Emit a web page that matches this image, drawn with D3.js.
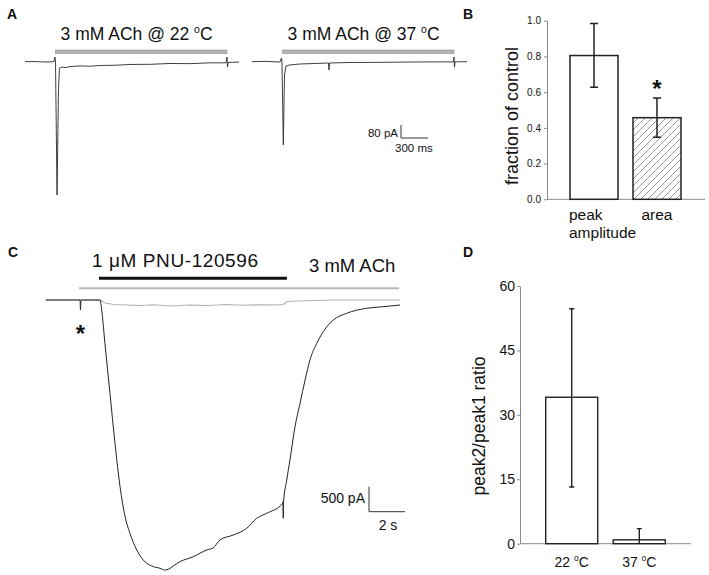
<!DOCTYPE html>
<html><head><meta charset="utf-8">
<script src="https://cdn.jsdelivr.net/npm/d3@7"></script>
<style>
body{margin:0;background:#fff}
svg{display:block}
text{font-family:"Liberation Sans",Arial,Helvetica,sans-serif;fill:#111}
</style>
</head><body>
<svg id="fig" width="709" height="575"></svg>
<script>
// ---------------- DATA ----------------
// Panel A : whole-cell current traces (time in ms, current in pA)
const aTemps = ["22", "37"];
const aAppWindowMs = [340, 2244];
const aTrace22 = [[0,0],[111,1],[222,-2],[322,0],[333,29],[339,-2],[356,-820],[372,-174],[383,-39],[411,-33],[456,-36],[500,-30],[611,-26],[722,-28],[833,-23],[1000,-22],[1167,-17],[1389,-16],[1611,-11],[1833,-12],[2056,-7],[2233,-7],[2244,29],[2250,-33],[2256,-5],[2378,-2]];
const aTrace37 = [[0,0],[144,2],[311,-2],[328,23],[333,-2],[348,-512],[361,-82],[378,-26],[422,-20],[533,-14],[700,-11],[850,-8],[855,-51],[861,-8],[1089,-5],[1422,-4],[1756,-2],[2089,-1],[2239,-1],[2244,29],[2250,-33],[2256,-1],[2389,0]];
const aScaleMs = 300, aScalePa = 80;

// Panel B : fraction of control
const bCategories = ["peak amplitude", "area"];
const bValues = [0.805, 0.457];
const bErrHigh = [0.985, 0.567];
const bErrLow = [0.628, 0.347];
const bTicks = [0, 0.2, 0.4, 0.6, 0.8, 1.0];

// Panel C : PNU-120596 potentiation (time in s, current in pA)
const cPnuWindow = [2.96, 13.4];
const cAchWindow = [1.85, 19.63];
const cTraceCtrl = [[0,0],[3.02,0],[3.3,-60],[3.8,-90],[4.5,-100],[5.2,-110],[6,-95],[7,-120],[8,-100],[9,-110],[10,-90],[11,-105],[12,-95],[12.8,-100],[13.2,-90],[13.4,-30],[14,-20],[16,0],[19.68,0]];
const cTraceDrug = [[0,0],[1.91,0],[1.93,-200],[1.96,0],[3.02,0],[3.11,-200],[3.29,-866],[3.57,-1866],[3.85,-2866],[4.13,-3734],[4.41,-4334],[4.68,-4666],[5.06,-5000],[5.42,-5200],[5.89,-5320],[6.35,-5366],[6.6,-5400],[6.81,-5386],[7.09,-5320],[7.46,-5234],[8.2,-5134],[8.94,-5000],[9.3,-4960],[9.68,-4800],[10.42,-4700],[11.17,-4566],[11.72,-4366],[12.28,-4266],[13.17,-4066],[13.18,-4034],[13.2,-4366],[13.21,-4060],[13.39,-3600],[13.57,-3200],[13.85,-2534],[14.13,-2066],[14.41,-1600],[14.68,-1200],[15.06,-866],[15.42,-634],[15.98,-400],[16.72,-266],[17.83,-166],[18.76,-134],[19.68,-100]];
const cScaleS = 2, cScalePa = 500;

// Panel D : peak2/peak1 ratio
const dCategories = ["22", "37"];
const dValues = [34.1, 0.9];
const dErrHigh = [54.7, 3.5];
const dErrLow = [13.2, -1.8];
const dTicks = [0, 15, 30, 45, 60];

// ---------------- DRAWING ----------------
const svg = d3.select("#fig");
svg.append("rect").attr("width",709).attr("height",575).attr("fill","#fff");
const defs = svg.append("defs");
const pat = defs.append("pattern").attr("id","hatch").attr("patternUnits","userSpaceOnUse")
  .attr("width",7).attr("height",7);
pat.append("rect").attr("width",7).attr("height",7).attr("fill","#fff");
pat.append("path").attr("d","M-1,1 l2,-2 M0,7 l7,-7 M6,8 l2,-2").attr("stroke","#9a9a9a").attr("stroke-width",1);

function panelLetter(t,x,y){
  svg.append("text").attr("x",x).attr("y",y).attr("font-size",14).attr("font-weight","bold").text(t);
}
function degreeText(g, x, y, num, size, prefix, anchor){
  const t = g.append("text").attr("x",x).attr("y",y).attr("font-size",size).attr("text-anchor",anchor||"start");
  t.append("tspan").text(prefix + num + " ");
  t.append("tspan").attr("font-size",size*0.6).attr("dy",-size*0.42).text("o");
  t.append("tspan").attr("dy",size*0.42).text("C");
  return t;
}

// ---- Panel A ----
panelLetter("A",7,19);
const xA = [
  d3.scaleLinear().domain([0,2400]).range([25, 25+2400/11.11]),
  d3.scaleLinear().domain([0,2400]).range([252, 252+2400/11.11])
];
const yA = d3.scaleLinear().domain([-820,0]).range([195,61.7]);
const aTraces = [aTrace22, aTrace37];
const lineA = (xs)=>d3.line().x(d=>xs(d[0])).y(d=>yA(d[1]));
aTraces.forEach((tr,i)=>{
  const xs = xA[i];
  svg.append("rect").attr("x",xs(aAppWindowMs[0])).attr("y",50)
    .attr("width",xs(aAppWindowMs[1])-xs(aAppWindowMs[0])).attr("height",3.5)
    .attr("fill","#b4b4b4").attr("stroke","#8c8c8c").attr("stroke-width",0.6);
  degreeText(svg, xs(aAppWindowMs[0])+5, 40, aTemps[i], 17.5, "3 mM ACh @ ");
  svg.append("path").attr("d",lineA(xs)(tr)).attr("fill","none")
    .attr("stroke","#2a2a2a").attr("stroke-width",0.9).attr("stroke-linejoin","round");
});
// scale bar A
{
  const ox = 401, oy = 138;
  const w = xA[1](aScaleMs)-xA[1](0), h = yA(-aScalePa)-yA(0);
  svg.append("path").attr("d",`M${ox},${oy-h} L${ox},${oy} L${ox+w},${oy}`)
    .attr("fill","none").attr("stroke","#333").attr("stroke-width",1);
  svg.append("text").attr("x",ox-3).attr("y",oy-1).attr("text-anchor","end").attr("font-size",11.5).text(aScalePa+" pA");
  svg.append("text").attr("x",ox-6).attr("y",oy+14).attr("font-size",11.5).text(aScaleMs+" ms");
}

// ---- Panel B ----
panelLetter("B",463,19);
const xB = d3.scaleBand().domain(bCategories).range([570,681]).paddingInner(0.238).paddingOuter(0);
const yB = d3.scaleLinear().domain([0,1]).range([199.3,20.7]);
const gBy = svg.append("g").attr("transform","translate(547,0)")
  .call(d3.axisLeft(yB).tickValues(bTicks).tickSize(3).tickSizeOuter(0).tickPadding(3).tickFormat(d3.format(".1f")));
gBy.select(".domain").attr("stroke","#8a8a8a");
gBy.selectAll(".tick line").attr("stroke","#8a8a8a");
gBy.selectAll(".tick text").attr("font-size",10).attr("font-family","Liberation Sans, Arial, sans-serif").attr("fill","#222");
svg.append("line").attr("x1",547).attr("x2",705).attr("y1",yB(0)).attr("y2",yB(0)).attr("stroke","#8a8a8a");
const bFills = ["#fff","url(#hatch)"];
bCategories.forEach((c,i)=>{
  svg.append("rect").attr("x",xB(c)).attr("y",yB(bValues[i])).attr("width",xB.bandwidth())
    .attr("height",yB(0)-yB(bValues[i])).attr("fill",bFills[i]).attr("stroke","#222").attr("stroke-width",1.5);
  const cx = xB(c)+xB.bandwidth()/2;
  svg.append("path").attr("d",`M${cx},${yB(bErrLow[i])} L${cx},${yB(bErrHigh[i])} M${cx-4},${yB(bErrHigh[i])} L${cx+4},${yB(bErrHigh[i])} M${cx-4},${yB(bErrLow[i])} L${cx+4},${yB(bErrLow[i])}`)
    .attr("stroke","#222").attr("stroke-width",1.5).attr("fill","none");
});
{
  const words = bCategories[0].split(" ");
  words.forEach((w,k)=>svg.append("text").attr("x",xB(bCategories[0])-1).attr("y",220+k*18.4).attr("font-size",15.5).text(w));
  svg.append("text").attr("x",xB(bCategories[1])+xB.bandwidth()/2).attr("y",220).attr("text-anchor","middle").attr("font-size",15.5).text(bCategories[1]);
  svg.append("text").attr("x",xB(bCategories[1])+xB.bandwidth()/2).attr("y",yB(bErrHigh[1])-1).attr("text-anchor","middle")
    .attr("font-size",24).attr("font-weight","bold").text("*");
}
svg.append("text").attr("transform","translate(518,116) rotate(-90)").attr("text-anchor","middle").attr("font-size",18).text("fraction of control");

// ---- Panel C ----
panelLetter("C",8,257);
const xC = d3.scaleLinear().domain([0,20]).range([45.7,405.7]);
const yC = d3.scaleLinear().domain([-5400,0]).range([570,300]);
svg.append("line").attr("x1",xC(cAchWindow[0])).attr("x2",xC(cAchWindow[1])).attr("y1",288.3).attr("y2",288.3)
  .attr("stroke","#b8b8b8").attr("stroke-width",2);
svg.append("line").attr("x1",xC(cPnuWindow[0])).attr("x2",xC(cPnuWindow[1])).attr("y1",278.3).attr("y2",278.3)
  .attr("stroke","#111").attr("stroke-width",3);
svg.append("text").attr("x",92).attr("y",266.7).attr("font-size",19).attr("textLength",166).attr("lengthAdjust","spacing").text("1 \u03BCM PNU-120596");
svg.append("text").attr("x",309).attr("y",271.7).attr("font-size",18.5).text("3 mM ACh");
const lineCtrl = d3.line().x(d=>xC(d[0])).y(d=>yC(d[1]));
const lineDrug = d3.line().x(d=>xC(d[0])).y(d=>yC(d[1])).curve(d3.curveMonotoneX);
svg.append("path").attr("d",lineCtrl(cTraceCtrl)).attr("fill","none").attr("stroke","#b0b0b0").attr("stroke-width",1.2);
svg.append("path").attr("d",lineDrug(cTraceDrug)).attr("fill","none").attr("stroke","#222").attr("stroke-width",1).attr("stroke-linejoin","round");
svg.append("text").attr("x",xC(1.93)).attr("y",342).attr("text-anchor","middle").attr("font-size",24).attr("font-weight","bold").text("*");
{
  const ox = 369, oy = 511.7;
  const w = xC(cScaleS)-xC(0), h = yC(-cScalePa)-yC(0);
  svg.append("path").attr("d",`M${ox},${oy-h} L${ox},${oy} L${ox+w},${oy}`)
    .attr("fill","none").attr("stroke","#333").attr("stroke-width",1);
  svg.append("text").attr("x",ox-4).attr("y",503).attr("text-anchor","end").attr("font-size",14).text(cScalePa+" pA");
  svg.append("text").attr("x",ox+w/2+1).attr("y",530).attr("text-anchor","middle").attr("font-size",14).text(cScaleS+" s");
}

// ---- Panel D ----
panelLetter("D",463,257);
const xD = d3.scaleBand().domain(dCategories).range([545.7,665.3]).paddingInner(0.23).paddingOuter(0);
const yD = d3.scaleLinear().domain([0,60]).range([543.7,286]);
const gDy = svg.append("g").attr("transform","translate(520,0)")
  .call(d3.axisLeft(yD).tickValues(dTicks).tickSize(3).tickSizeOuter(0).tickPadding(2));
gDy.select(".domain").attr("stroke","#8a8a8a");
gDy.selectAll(".tick line").attr("stroke","#8a8a8a");
gDy.selectAll(".tick text").attr("font-size",14).attr("font-family","Liberation Sans, Arial, sans-serif").attr("fill","#222");
svg.append("line").attr("x1",520).attr("x2",691).attr("y1",yD(0)).attr("y2",yD(0)).attr("stroke","#8a8a8a");
dCategories.forEach((c,i)=>{
  svg.append("rect").attr("x",xD(c)).attr("y",yD(dValues[i])).attr("width",xD.bandwidth())
    .attr("height",yD(0)-yD(dValues[i])).attr("fill","#fff").attr("stroke","#222").attr("stroke-width",1.4);
  const cx = xD(c)+xD.bandwidth()/2;
  const lo = Math.max(0,dErrLow[i]);
  let d = `M${cx},${yD(lo)} L${cx},${yD(dErrHigh[i])} M${cx-2.5},${yD(dErrHigh[i])} L${cx+2.5},${yD(dErrHigh[i])}`;
  if (dErrLow[i] > 0) d += ` M${cx-2.5},${yD(lo)} L${cx+2.5},${yD(lo)}`;
  svg.append("path").attr("d",d).attr("stroke","#222").attr("stroke-width",1.4).attr("fill","none");
  degreeText(svg, cx, 566.7, c, 14, "", "middle");
});
svg.append("text").attr("transform","translate(485,426) rotate(-90)").attr("text-anchor","middle").attr("font-size",17.5).text("peak2/peak1 ratio");
</script>
</body></html>
